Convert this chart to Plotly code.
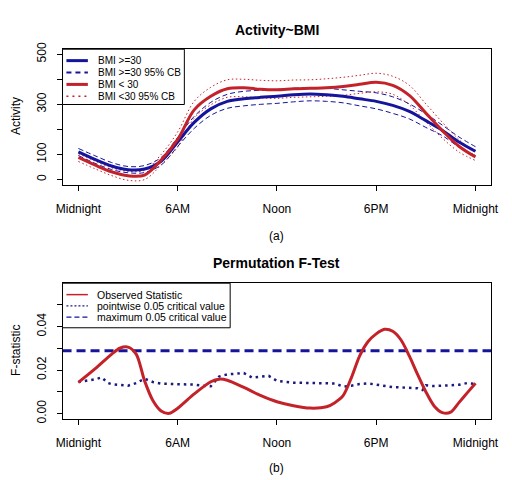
import plotly.graph_objects as go

# ---------------- data ----------------
hours = list(range(25))
tick_hours = [0, 6, 12, 18, 24]
tick_labels = ["Midnight", "6AM", "Noon", "6PM", "Midnight"]

bmi_hi = [110, 80, 54, 39, 42, 73, 150, 228, 282, 312, 322, 328, 332, 338, 341, 338, 332, 322, 312, 296, 272, 235, 196, 150, 113]
bmi_hi_up = [124, 95, 68, 52, 56, 88, 168, 252, 308, 340, 352, 356, 360, 364, 366, 364, 358, 352, 346, 330, 302, 262, 217, 170, 131]
bmi_hi_lo = [96, 65, 40, 27, 28, 58, 132, 204, 256, 284, 294, 300, 304, 310, 314, 312, 306, 294, 282, 264, 242, 208, 175, 130, 96]

bmi_lo = [88, 58, 31, 15, 18, 78, 160, 278, 332, 362, 366, 360, 358, 362, 364, 366, 371, 380, 388, 376, 336, 265, 195, 133, 90]
bmi_lo_up = [103, 74, 47, 33, 37, 100, 190, 312, 368, 398, 400, 396, 394, 397, 398, 402, 408, 416, 424, 412, 376, 302, 228, 160, 106]
bmi_lo_lo = [72, 43, 16, -3, 0, 58, 130, 245, 298, 328, 330, 326, 324, 328, 330, 332, 336, 344, 350, 340, 298, 230, 165, 110, 76]

obs_hours = [0, 1, 2, 2.5, 3, 3.5, 4, 4.5, 5, 5.5, 6, 7, 8, 8.5, 9, 10, 11, 12, 13, 14, 15, 15.5, 16,
             16.5, 17, 17.5, 18, 18.5, 19, 19.5, 20, 20.5, 21, 21.5, 22, 22.5, 23, 23.5, 24]
obs_stat = [0.0143, 0.0205, 0.0272, 0.0300, 0.0305, 0.0272, 0.0150, 0.0060, 0.0012, 0.0001, 0.0024, 0.0090,
            0.0146, 0.0158, 0.0153, 0.0120, 0.0083, 0.0054, 0.0036, 0.0025, 0.0031, 0.0050, 0.0082,
            0.0165, 0.0265, 0.0330, 0.0366, 0.0387, 0.0378, 0.0338, 0.0265, 0.0180, 0.0100, 0.0035,
            0.0004, 0.0006, 0.0050, 0.0095, 0.0139]

pw_hours = [0, 0.5, 1, 1.4, 1.8, 2, 2.5, 3, 3.5, 4, 4.5, 5, 5.5, 6, 6.5, 7, 7.5, 8, 8.5, 9, 9.5, 10, 10.5,
            11, 11.5, 12, 12.5, 13, 13.5, 14, 14.5, 15, 15.5, 16, 16.5, 17, 17.5, 18, 18.5, 19, 19.5,
            20, 20.5, 20.8, 21, 21.5, 22, 22.5, 23, 23.5, 24]
pw_crit = [0.0145, 0.0150, 0.0157, 0.0166, 0.0140, 0.0135, 0.0133, 0.0128, 0.0140, 0.0160, 0.0145, 0.0137,
           0.0136, 0.0136, 0.0133, 0.0133, 0.0128, 0.0125, 0.0170, 0.0180, 0.0183, 0.0186, 0.0165,
           0.0168, 0.0173, 0.0150, 0.0145, 0.0142, 0.0141, 0.0140, 0.0142, 0.0140, 0.0138, 0.0124,
           0.0128, 0.0136, 0.0138, 0.0133, 0.0128, 0.0121, 0.0120, 0.0119, 0.0116, 0.0108, 0.0130,
           0.0126, 0.0128, 0.0131, 0.0132, 0.0140, 0.0136]

max_crit = 0.0288

BLUE = "#14149c"
RED = "#c4222a"
NAVY = "#1a1a7e"
FONT = "Liberation Sans, Arial, Helvetica, sans-serif"

W, H = 512, 480

def px_x(p):
    return p / W

def px_y(p):
    return 1 - p / H

fig = go.Figure()

# ---------------- top panel ----------------
fig.add_trace(go.Scatter(x=hours, y=bmi_hi_up, mode="lines", line=dict(color=BLUE, width=1, dash="5px,3px", shape="spline"),
                         xaxis="x", yaxis="y", showlegend=False, hoverinfo="skip"))
fig.add_trace(go.Scatter(x=hours, y=bmi_hi_lo, mode="lines", line=dict(color=BLUE, width=1, dash="5px,3px", shape="spline"),
                         xaxis="x", yaxis="y", showlegend=False, hoverinfo="skip"))
fig.add_trace(go.Scatter(x=hours, y=bmi_lo_up, mode="lines", line=dict(color=RED, width=1, dash="1.5px,2.5px", shape="spline"),
                         xaxis="x", yaxis="y", showlegend=False, hoverinfo="skip"))
fig.add_trace(go.Scatter(x=hours, y=bmi_lo_lo, mode="lines", line=dict(color=RED, width=1, dash="1.5px,2.5px", shape="spline"),
                         xaxis="x", yaxis="y", showlegend=False, hoverinfo="skip"))
fig.add_trace(go.Scatter(x=hours, y=bmi_hi, mode="lines", name="BMI >=30", line=dict(color=BLUE, width=3, shape="spline"),
                         xaxis="x", yaxis="y", showlegend=False))
fig.add_trace(go.Scatter(x=hours, y=bmi_lo, mode="lines", name="BMI < 30", line=dict(color=RED, width=3, shape="spline"),
                         xaxis="x", yaxis="y", showlegend=False))

# ---------------- bottom panel ----------------
fig.add_trace(go.Scatter(x=pw_hours, y=pw_crit, mode="lines", name="pointwise 0.05 critical value",
                         line=dict(color=NAVY, width=2.5, dash="2.5px,4px"), xaxis="x2", yaxis="y2", showlegend=False))
fig.add_trace(go.Scatter(x=obs_hours, y=obs_stat, mode="lines", name="Observed Statistic",
                         line=dict(color=RED, width=3, shape="spline", smoothing=0.8), xaxis="x2", yaxis="y2", showlegend=False))

xdom = [px_x(58), px_x(498)]
top_dom = [px_y(182.3), px_y(43.3)]
bot_dom = [px_y(422.3), px_y(283.3)]

axis_common = dict(showline=True, linecolor="black", linewidth=1, mirror=True, showgrid=False, zeroline=False,
                   ticks="outside", ticklen=5, tickcolor="black", tickwidth=1,
                   tickfont=dict(family=FONT, size=12, color="black"))

fig.update_layout(
    width=W, height=H, margin=dict(l=0, r=0, t=0, b=0),
    paper_bgcolor="white", plot_bgcolor="white", showlegend=False,
    font=dict(family=FONT, color="black"),
    xaxis=dict(domain=xdom, range=[-0.96, 24.96], tickvals=tick_hours, ticktext=tick_labels,
               anchor="y", ticklabelstandoff=8, **axis_common),
    yaxis=dict(domain=top_dom, range=[-20.8, 520], tickvals=[0, 100, 200, 300, 400, 500],
               ticktext=["0", "100", "", "300", "", "500"], tickangle=-90, anchor="x",
               ticklabelstandoff=6, **axis_common),
    xaxis2=dict(domain=xdom, range=[-0.96, 24.96], tickvals=tick_hours, ticktext=tick_labels,
                anchor="y2", ticklabelstandoff=8, **axis_common),
    yaxis2=dict(domain=bot_dom, range=[-0.0024, 0.0599], tickvals=[0, 0.01, 0.02, 0.03, 0.04, 0.05],
                ticktext=["0.00", "", "0.02", "", "0.04", ""], tickangle=-90, anchor="x2",
                ticklabelstandoff=6, **axis_common),
)

ann = []
def text(x, y, s, size=12, bold=False, angle=0, xanchor="center"):
    ann.append(dict(x=px_x(x), y=px_y(y), xref="paper", yref="paper", text=("<b>%s</b>" % s) if bold else s,
                    showarrow=False, font=dict(family=FONT, size=size, color="black"), textangle=angle,
                    xanchor=xanchor, yanchor="middle"))

text(278, 24, "Activity~BMI", size=14, bold=True)
text(278, 263, "Permutation F-Test", size=14, bold=True)
text(278, 235, "(a)", size=12)
text(278, 473, "(b)", size=12)
text(10, 112, "Activity", size=12, angle=-90)
text(10, 352, "F-statistic", size=12, angle=-90)

shapes = []
# maximum critical value: horizontal line across the whole bottom panel
shapes.append(dict(type="line", xref="x2 domain", yref="y2", x0=0, x1=1, y0=max_crit, y1=max_crit,
                   line=dict(color=BLUE, width=3, dash="9px,5px"), layer="below"))
# top legend
shapes.append(dict(type="rect", xref="paper", yref="paper", x0=px_x(58), x1=px_x(183), y0=px_y(100), y1=px_y(43.3),
                   line=dict(color="black", width=1), fillcolor="white", layer="above"))
top_items = [("BMI >=30", BLUE, 3, "solid"), ("BMI >=30 95% CB", BLUE, 2, "5px,4px"),
             ("BMI < 30", RED, 3, "solid"), ("BMI <30 95% CB", RED, 1.5, "2px,4px")]
for i, (lab, col, w, d) in enumerate(top_items):
    yy = 55 + i * 12.2
    shapes.append(dict(type="line", xref="paper", yref="paper", x0=px_x(62), x1=px_x(84), y0=px_y(yy), y1=px_y(yy),
                       line=dict(color=col, width=w, dash=d), layer="above"))
    text(92, yy, lab, size=10, xanchor="left")

# bottom legend
shapes.append(dict(type="rect", xref="paper", yref="paper", x0=px_x(58), x1=px_x(230), y0=px_y(329), y1=px_y(283.3),
                   line=dict(color="black", width=1), fillcolor="white", layer="above"))
bot_items = [("Observed Statistic", RED, 1.5, "solid"), ("pointwise 0.05 critical value", NAVY, 1.2, "2px,2px"),
             ("maximum 0.05 critical value", BLUE, 1.2, "5px,3px")]
for i, (lab, col, w, d) in enumerate(bot_items):
    yy = 295 + i * 11.5
    shapes.append(dict(type="line", xref="paper", yref="paper", x0=px_x(62), x1=px_x(84), y0=px_y(yy), y1=px_y(yy),
                       line=dict(color=col, width=w, dash=d), layer="above"))
    text(91, yy, lab, size=10.5, xanchor="left")

fig.update_layout(annotations=ann, shapes=shapes)

fig.write_html("out.html", config={"displayModeBar": False},
               post_script="document.body.style.margin='0px';document.body.style.overflow='hidden';")
